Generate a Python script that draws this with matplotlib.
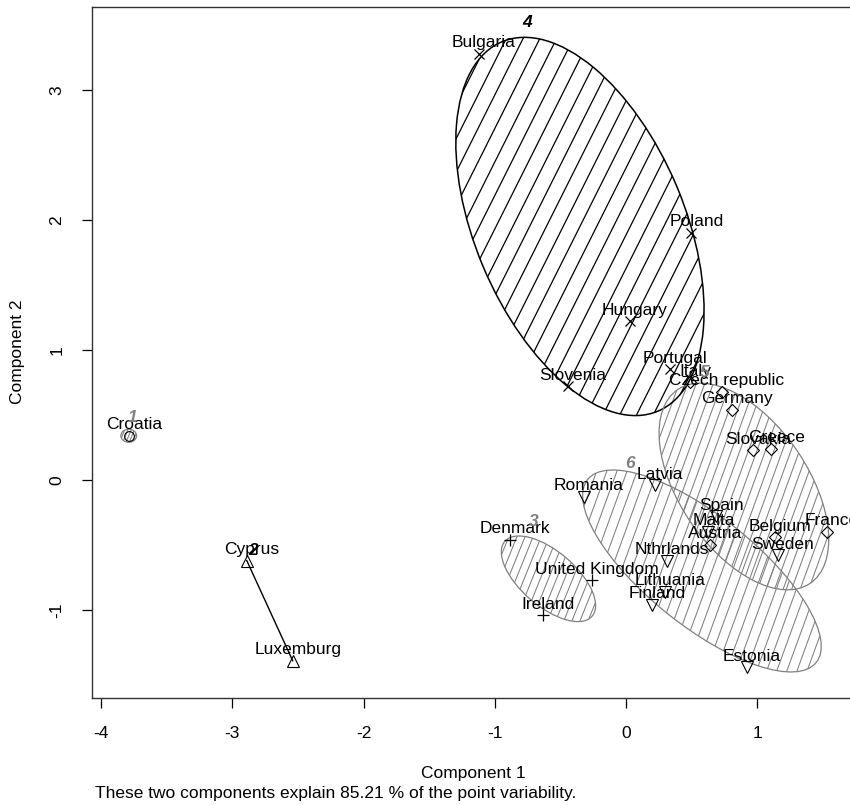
import numpy as np
import matplotlib
matplotlib.use("Agg")
import matplotlib.pyplot as plt
from matplotlib.patches import Ellipse

plt.rcParams['font.family'] = ['Liberation Sans', 'DejaVu Sans']
plt.rcParams['axes.unicode_minus'] = False

# countries, their cluster and the two component scores
countries = ['Croatia', 'Cyprus', 'Luxemburg', 'Denmark', 'United Kingdom', 'Ireland',
             'Bulgaria', 'Poland', 'Hungary', 'Portugal', 'Slovenia',
             'Italy', 'Czech republic', 'Germany', 'Slovakia', 'Greece', 'Belgium',
             'France', 'Austria',
             'Latvia', 'Romania', 'Spain', 'Malta', 'Nthrlands', 'Sweden',
             'Lithuania', 'Finland', 'Estonia']
cluster = [1, 2, 2, 3, 3, 3,
           4, 4, 4, 4, 4,
           5, 5, 5, 5, 5, 5, 5, 5,
           6, 6, 6, 6, 6, 6, 6, 6, 6]
comp1 = [-3.79, -2.89, -2.54, -0.88, -0.26, -0.63,
         -1.12, 0.50, 0.03, 0.34, -0.44,
         0.49, 0.73, 0.81, 0.97, 1.11, 1.14, 1.53, 0.64,
         0.22, -0.32, 0.69, 0.63, 0.31, 1.16, 0.30, 0.20, 0.92]
comp2 = [0.34, -0.62, -1.39, -0.46, -0.77, -1.04,
         3.28, 1.90, 1.22, 0.85, 0.72,
         0.75, 0.68, 0.54, 0.23, 0.24, -0.44, -0.40, -0.50,
         -0.04, -0.13, -0.28, -0.40, -0.62, -0.58, -0.86, -0.96, -1.44]

# spanning ellipses (cluster 2 is a segment between its two members)
ell_id = [1, 3, 4, 5, 6]
ell_cx = [-3.79, -0.59, -0.35, 0.90, 0.58]
ell_cy = [0.34, -0.76, 1.95, -0.05, -0.70]
ell_a = [0.06, 0.44, 1.54, 0.90, 1.12]
ell_b = [0.05, 0.21, 0.80, 0.49, 0.42]
ell_ang = [0, -41, -67.4, -56, -39]

# cluster numbers
num_id = [1, 2, 3, 4, 5, 6]
num_x = [-3.76, -2.845, -0.70, -0.75, 0.60, 0.03]
num_y = [0.48, -0.54, -0.32, 3.52, 0.83, 0.13]

markers = {1: 'o', 2: '^', 3: '+', 4: 'x', 5: 'D', 6: 'v'}
msize = {1: 7, 2: 8, 3: 9, 4: 7, 5: 6, 6: 8}
gray = '#808080'
ell_color = {1: gray, 3: gray, 4: 'black', 5: gray, 6: gray}
hatch_gap = {1: 3, 3: 7.5, 4: 15, 5: 8, 6: 9.5}     # pixels between shading lines
hatch_angle = {1: 68, 3: 68, 4: 63.4, 5: 70, 6: 70}
num_color = {1: gray, 2: 'black', 3: gray, 4: 'black', 5: gray, 6: gray}

W, H = 850, 805
fig = plt.figure(figsize=(W / 100, H / 100), dpi=100)
ax = fig.add_axes([92 / W, 1 - 698 / H, (855 - 92) / W, (698 - 7) / H])
ax.set_xlim(-4.07, 1.747)
ax.set_ylim(-1.677, 3.638)

sx = (855 - 92) / (1.747 + 4.07)
sy = (698 - 7) / (3.638 + 1.677)

for k, cx, cy, a, b, ang in zip(ell_id, ell_cx, ell_cy, ell_a, ell_b, ell_ang):
    col = ell_color[k]
    e = Ellipse((cx, cy), 2 * a, 2 * b, angle=ang, fill=False,
                edgecolor=col, lw=1.1 if col == 'black' else 0.9, zorder=2)
    ax.add_patch(e)
    th = np.radians(hatch_angle[k])
    d = np.array([np.cos(th) / sx, np.sin(th) / sy])
    nrm = np.array([-np.sin(th) / sx, np.cos(th) / sy])
    gap = hatch_gap[k]
    n = int(2.2 * max(a, b) * sx / gap) + 2
    for i in range(-n, n + 1):
        p0 = np.array([cx, cy]) + nrm * gap * i
        t = 3 * max(a, b) * sx
        ln, = ax.plot([p0[0] - d[0] * t, p0[0] + d[0] * t],
                      [p0[1] - d[1] * t, p0[1] + d[1] * t],
                      color=col, lw=0.9 if col == 'black' else 0.75, zorder=1)
        ln.set_clip_path(e)

# cluster 2: segment between Cyprus and Luxemburg
i2 = [i for i, c in enumerate(cluster) if c == 2]
ax.plot([comp1[i] for i in i2], [comp2[i] for i in i2], color='black', lw=1.0, zorder=2)

for name, c, x, y in zip(countries, cluster, comp1, comp2):
    mk = markers[c]
    if mk in ('+', 'x'):
        ax.plot(x, y, marker=mk, ms=msize[c], color='black', mew=0.9, zorder=3)
    else:
        ax.plot(x, y, marker=mk, ms=msize[c], mfc='none', mec='black', mew=0.8, zorder=3)
    ax.annotate(name, (x, y), xytext=(5, 11), textcoords='offset pixels',
                ha='center', va='center', fontsize=12.5, color='black',
                annotation_clip=False, zorder=4)

for k, x, y in zip(num_id, num_x, num_y):
    ax.text(x, y, str(k), color=num_color[k], fontsize=12.5, fontweight='bold',
            fontstyle='italic', ha='center', va='center', zorder=4)

ax.set_xticks([-4, -3, -2, -1, 0, 1])
ax.set_yticks([-1, 0, 1, 2, 3])
ax.tick_params(direction='out', length=7, width=0.9, labelsize=12.5, pad=13)
plt.setp(ax.get_yticklabels(), rotation=90, va='center')
for s in ax.spines.values():
    s.set_linewidth(1.0)
    s.set_color('#333333')

fig.text(473 / W, 1 - 773 / H, 'Component 1', ha='center', va='center', fontsize=12.5)
fig.text(18 / W, 1 - 352 / H, 'Component 2', ha='center', va='center',
         rotation=90, fontsize=12.5)
fig.text(95 / W, 1 - 793 / H, 'These two components explain 85.21 % of the point variability.',
         ha='left', va='center', fontsize=12.5)

fig.savefig('out.png', dpi=100)
